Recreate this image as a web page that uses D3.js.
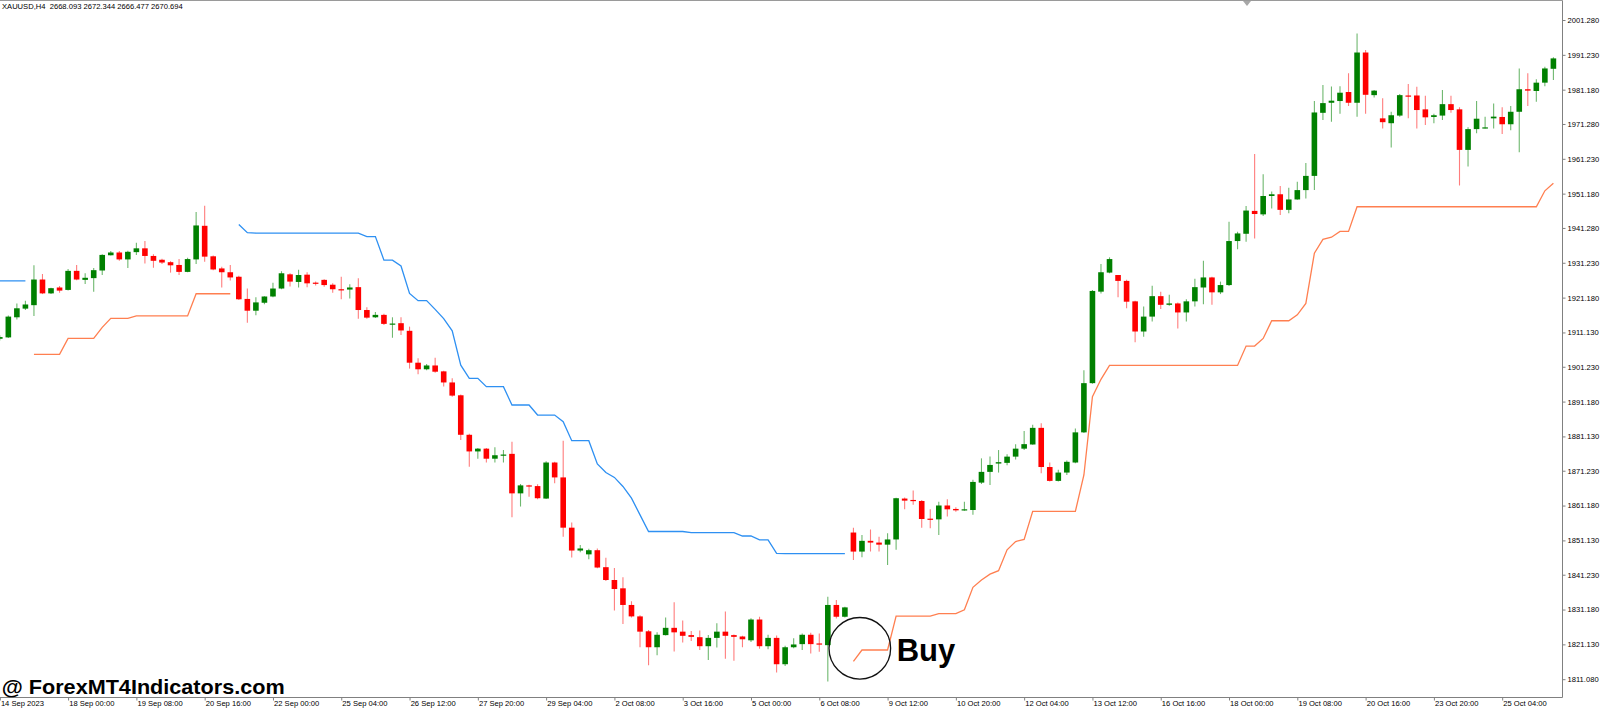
<!DOCTYPE html>
<html><head><meta charset="utf-8">
<script src="https://cdn.jsdelivr.net/npm/d3@7"></script>
<style>
html,body{margin:0;padding:0;background:#fff;overflow:hidden;}
svg{display:block;}
text{font-family:"Liberation Sans",Arial,sans-serif;}
</style></head><body>
<svg id="chart" width="1600" height="710"></svg>
<script>
// ---- DATA (XAUUSD H4 candles, one per bar, left to right) ----
const opens=[
1909.3,1909.7,1915.5,1918.0,1919.0,1926.4,1922.4,1924.1,1923.4,1928.9,
1926.3,1926.8,1929.0,1933.4,1934.2,1932.2,1934.3,1935.4,1933.2,1932.1,
1931.4,1930.6,1928.6,1932.2,1941.9,1933.1,1929.6,1928.5,1927.2,1920.8,
1917.4,1919.7,1921.5,1923.8,1927.9,1925.7,1927.8,1925.5,1926.3,1924.9,
1923.6,1923.5,1924.2,1917.6,1915.5,1916.2,1913.6,1913.8,1911.6,1902.4,
1900.5,1901.6,1899.9,1896.7,1893.0,1881.6,1876.8,1877.6,1874.7,1875.6,
1876.1,1864.7,1867.0,1866.8,1863.2,1873.6,1869.3,1854.8,1848.2,1847.1,
1848.3,1843.4,1839.7,1837.3,1832.5,1829.2,1824.9,1820.3,1823.8,1825.9,
1824.8,1823.8,1823.2,1820.6,1823.0,1824.8,1823.8,1823.4,1822.3,1828.3,
1820.6,1823.0,1815.4,1820.3,1821.2,1823.9,1821.4,1820.9,1832.5,1829.1,
1853.4,1847.9,1851.0,1850.5,1849.9,1851.4,1863.2,1862.8,1862.5,1857.4,
1857.2,1861.2,1860.2,1859.8,1859.9,1867.8,1870.9,1873.3,1873.5,1875.3,
1877.6,1878.8,1883.6,1872.3,1868.3,1870.7,1873.6,1882.3,1896.5,1922.9,
1928.4,1927.7,1926.0,1920.1,1911.4,1915.7,1921.6,1919.1,1919.5,1916.9,
1920.1,1924.1,1927.0,1922.7,1924.8,1937.5,1939.6,1946.2,1945.2,1950.5,
1951.0,1946.5,1949.5,1952.2,1956.3,1974.5,1977.4,1977.9,1980.5,1977.4,
1991.9,1979.6,1972.9,1971.5,1973.7,1979.5,1979.5,1975.5,1973.3,1973.7,
1977.0,1975.5,1963.8,1969.8,1970.0,1972.9,1973.3,1971.2,1974.8,1981.3,
1980.8,1983.2,1987.2];
const highs=[
1910.3,1916.0,1919.5,1920.3,1930.5,1928.0,1924.0,1924.5,1929.4,1930.6,
1928.2,1929.7,1933.7,1934.6,1934.6,1934.7,1937.0,1937.5,1933.7,1932.4,
1931.7,1932.3,1932.7,1945.9,1947.7,1933.3,1930.1,1930.6,1927.5,1923.8,
1921.3,1921.6,1925.5,1928.8,1928.2,1929.2,1928.5,1925.8,1926.5,1925.3,
1927.2,1925.0,1926.8,1918.4,1917.0,1916.5,1915.5,1915.5,1912.8,1903.7,
1902.0,1903.8,1900.1,1897.9,1893.2,1881.9,1877.8,1877.8,1878.0,1877.2,
1879.6,1867.4,1867.2,1867.3,1874.0,1873.8,1879.9,1856.3,1849.8,1848.7,
1848.8,1846.1,1843.2,1840.5,1833.6,1829.5,1825.3,1824.6,1828.9,1833.3,
1828.0,1825.0,1825.1,1823.8,1827.2,1830.6,1824.0,1823.6,1828.7,1829.1,
1823.9,1823.7,1820.7,1822.9,1824.3,1824.5,1824.3,1834.9,1833.9,1832.0,
1854.8,1852.7,1854.3,1852.2,1853.2,1863.4,1863.5,1865.5,1862.8,1860.1,
1862.3,1863.0,1860.7,1862.3,1868.6,1874.8,1875.3,1877.2,1876.0,1878.9,
1882.7,1884.5,1884.9,1873.6,1871.5,1874.2,1883.4,1900.2,1923.4,1930.9,
1932.8,1927.7,1926.3,1920.3,1918.6,1924.6,1922.9,1922.0,1919.8,1920.7,
1926.6,1931.8,1927.2,1925.8,1943.1,1940.2,1947.6,1962.6,1956.8,1951.8,
1953.4,1952.9,1954.6,1960.0,1977.9,1982.5,1982.1,1982.2,1985.9,1997.4,
1992.6,1981.1,1978.7,1974.8,1979.9,1982.8,1982.0,1979.4,1974.2,1981.1,
1979.4,1976.1,1970.3,1977.9,1973.4,1977.2,1976.1,1976.5,1987.3,1985.9,
1984.2,1987.8,1990.5];
const lows=[
1908.8,1909.5,1914.9,1917.6,1915.9,1922.2,1922.2,1922.6,1923.2,1926.2,
1925.1,1922.9,1927.7,1933.3,1931.8,1929.7,1933.5,1931.0,1929.8,1930.9,
1928.4,1927.7,1928.5,1930.9,1931.5,1929.1,1924.1,1926.1,1920.5,1913.9,
1916.1,1919.3,1921.3,1923.6,1924.4,1924.1,1924.2,1924.7,1924.3,1922.6,
1920.7,1920.9,1915.1,1915.1,1915.3,1913.3,1909.6,1910.4,1900.7,1899.1,
1900.2,1899.5,1895.5,1892.6,1880.1,1872.4,1874.7,1873.6,1873.6,1873.6,
1857.8,1860.9,1863.7,1863.0,1863.1,1867.6,1852.2,1846.2,1847.7,1845.7,
1843.1,1839.4,1830.9,1827.0,1828.9,1820.3,1815.1,1818.0,1823.7,1819.1,
1821.7,1822.1,1819.5,1816.6,1820.2,1817.0,1816.4,1820.3,1821.8,1819.9,
1819.7,1813.0,1814.9,1820.0,1819.5,1818.5,1819.0,1810.4,1828.6,1828.9,
1845.5,1846.3,1847.9,1847.9,1844.0,1848.4,1860.1,1861.4,1854.8,1854.6,
1852.7,1858.0,1859.4,1859.7,1858.5,1867.4,1867.1,1870.7,1872.8,1874.5,
1877.2,1878.7,1870.5,1868.1,1868.1,1870.0,1873.4,1882.1,1896.3,1922.4,
1928.2,1921.3,1918.1,1908.3,1909.9,1914.3,1917.9,1918.8,1912.3,1914.3,
1918.6,1919.3,1919.1,1922.2,1924.5,1935.1,1937.3,1938.2,1944.7,1946.9,
1945.0,1945.5,1949.4,1949.8,1952.2,1972.4,1971.9,1974.2,1976.5,1973.4,
1974.2,1978.9,1970.0,1964.5,1973.4,1972.9,1970.0,1971.0,1971.5,1972.4,
1974.5,1953.5,1959.0,1968.6,1970.0,1970.0,1968.4,1969.5,1963.1,1976.5,
1977.7,1982.2,1984.0];
const closes=[
1909.8,1915.7,1918.1,1919.2,1926.4,1922.4,1923.9,1923.2,1928.9,1926.4,
1926.9,1929.1,1933.5,1934.2,1932.2,1934.4,1935.4,1933.2,1931.8,1931.3,
1930.5,1928.6,1932.3,1942.0,1933.0,1929.3,1928.5,1927.0,1920.7,1917.4,
1919.8,1921.5,1923.8,1928.2,1925.8,1927.7,1925.3,1925.2,1924.8,1923.6,
1923.5,1924.1,1917.6,1915.4,1916.2,1913.6,1913.7,1911.7,1902.4,1900.5,
1901.6,1899.8,1896.7,1892.9,1881.6,1876.8,1877.6,1874.7,1875.7,1875.9,
1864.7,1867.0,1866.7,1863.3,1873.6,1869.3,1854.8,1848.2,1848.8,1848.3,
1843.3,1839.7,1837.1,1832.5,1829.2,1824.8,1820.3,1823.9,1825.9,1824.6,
1823.6,1823.3,1820.6,1823.0,1824.8,1823.6,1823.3,1822.6,1828.3,1820.6,
1823.0,1815.4,1820.3,1821.1,1823.9,1821.2,1821.1,1832.5,1829.1,1831.8,
1847.9,1851.0,1850.5,1849.9,1851.4,1863.3,1862.6,1862.5,1857.3,1857.1,
1861.2,1860.1,1859.8,1860.1,1868.0,1870.9,1872.9,1873.7,1875.3,1877.6,
1878.9,1883.6,1872.3,1868.3,1870.7,1873.8,1882.3,1896.5,1923.1,1928.5,
1932.3,1926.0,1920.0,1911.4,1915.7,1921.6,1919.1,1919.5,1916.9,1920.1,
1924.2,1927.0,1922.7,1924.8,1937.5,1939.7,1946.3,1945.3,1950.5,1951.0,
1946.5,1949.5,1952.2,1956.3,1974.6,1977.3,1978.0,1980.3,1977.4,1991.9,
1979.7,1980.9,1971.8,1973.8,1979.6,1979.3,1975.3,1973.2,1973.8,1977.0,
1975.3,1963.8,1969.8,1972.8,1970.3,1973.4,1971.2,1974.8,1981.3,1980.9,
1983.2,1987.3,1990.2];
// trend indicator: down-trend line (blue) and up-trend line (orange); null = not drawn
const trendDown=[
1926.0,1926.0,1926.0,1926.0,null,null,null,null,null,null,
null,null,null,null,null,null,null,null,null,null,
null,null,null,null,null,null,null,null,1942.3,1939.9,
1939.8,1939.8,1939.8,1939.8,1939.8,1939.8,1939.8,1939.8,1939.8,1939.8,
1939.8,1939.8,1939.8,1938.8,1938.8,1932.0,1932.0,1930.3,1922.4,1920.3,
1920.3,1917.8,1915.1,1911.6,1901.7,1897.9,1897.9,1895.5,1895.5,1895.5,
1890.2,1890.2,1890.2,1887.3,1887.3,1887.3,1885.4,1879.9,1879.9,1879.9,
1873.2,1870.7,1869.3,1866.7,1863.3,1858.5,1853.7,1853.7,1853.7,1853.7,
1853.7,1853.4,1853.4,1853.4,1853.4,1853.4,1853.4,1852.4,1852.4,1851.3,
1851.3,1847.4,1847.3,1847.3,1847.3,1847.3,1847.3,1847.3,1847.3,1847.3,
null,null,null,null,null,null,null,null,null,null,
null,null,null,null,null,null,null,null,null,null,
null,null,null,null,null,null,null,null,null,null,
null,null,null,null,null,null,null,null,null,null,
null,null,null,null,null,null,null,null,null,null,
null,null,null,null,null,null,null,null,null,null,
null,null,null,null,null,null,null,null,null,null,
null,null,null,null,null,null,null,null,null,null,
null,null,null];
const trendUp=[
null,null,null,null,1904.8,1904.8,1904.8,1904.8,1909.4,1909.4,
1909.4,1909.4,1912.6,1915.2,1915.2,1915.2,1915.9,1915.9,1915.9,1915.9,
1915.9,1915.9,1915.9,1922.3,1922.3,1922.3,1922.3,1922.3,null,null,
null,null,null,null,null,null,null,null,null,null,
null,null,null,null,null,null,null,null,null,null,
null,null,null,null,null,null,null,null,null,null,
null,null,null,null,null,null,null,null,null,null,
null,null,null,null,null,null,null,null,null,null,
null,null,null,null,null,null,null,null,null,null,
null,null,null,null,null,null,null,null,null,null,
1816.2,1819.5,1819.5,1819.5,1819.5,1829.3,1829.3,1829.3,1829.3,1829.3,
1830.0,1830.0,1830.0,1831.1,1837.6,1839.7,1841.4,1842.4,1848.4,1850.8,
1851.4,1859.5,1859.5,1859.5,1859.5,1859.5,1859.5,1870.0,1892.6,1897.6,
1901.6,1901.6,1901.6,1901.6,1901.6,1901.6,1901.6,1901.6,1901.6,1901.6,
1901.6,1901.6,1901.6,1901.6,1901.6,1901.6,1907.2,1907.2,1909.4,1914.5,
1914.5,1914.5,1916.2,1919.5,1934.0,1938.0,1938.6,1940.3,1940.3,1947.4,
1947.4,1947.4,1947.4,1947.4,1947.4,1947.4,1947.4,1947.4,1947.4,1947.4,
1947.4,1947.4,1947.4,1947.4,1947.4,1947.4,1947.4,1947.4,1947.4,1947.4,
1947.4,1952.0,1954.2];
const yTickValues=[2001.28,1991.23,1981.18,1971.28,1961.23,1951.18,1941.28,1931.23,1921.18,1911.13,
1901.23,1891.18,1881.13,1871.23,1861.18,1851.13,1841.23,1831.18,1821.13,1811.08];
const xTickIndex=[0,8,16,24,32,40,48,56,64,72,80,88,96,104,112,120,128,136,144,152,160,168,176];
const xTickLabels=["14 Sep 2023","18 Sep 00:00","19 Sep 08:00","20 Sep 16:00","22 Sep 00:00","25 Sep 04:00",
"26 Sep 12:00","27 Sep 20:00","29 Sep 04:00","2 Oct 08:00","3 Oct 16:00","5 Oct 00:00","6 Oct 08:00",
"9 Oct 12:00","10 Oct 20:00","12 Oct 04:00","13 Oct 12:00","16 Oct 16:00","18 Oct 00:00","19 Oct 08:00",
"20 Oct 16:00","23 Oct 20:00","25 Oct 04:00"];
const headerText="XAUUSD,H4  2668.093 2672.344 2666.477 2670.694";
const watermarkText="@ ForexMT4Indicators.com";
const signalIndex=[100.75];
const signalPrice=[1820.0];
const signalLabel=["Buy"];

// ---- CHART ----
const W=1600,H=710;
const plotRight=1562.5, plotBottom=697.5, plotTop=0.5;
const svg=d3.select("#chart");
const x=d3.scaleLinear().domain([0,182]).range([-0.2,1553.4]);
const y=d3.scaleLinear().domain([1811.08,2001.28]).range([679.2,20]);

const candles=opens.map((o,i)=>({i,o,h:highs[i],l:lows[i],c:closes[i]}));

svg.append("defs").append("clipPath").attr("id","plotclip")
  .append("rect").attr("x",0).attr("y",plotTop).attr("width",plotRight).attr("height",plotBottom-plotTop);

const plot=svg.append("g").attr("clip-path","url(#plotclip)");

const bull="#008000", bear="#ff0000";
const bodyW=5.6;

plot.append("g").selectAll("line").data(candles).join("line")
  .attr("x1",d=>x(d.i)).attr("x2",d=>x(d.i))
  .attr("y1",d=>y(d.h)).attr("y2",d=>y(d.l))
  .attr("stroke",d=>d.c>=d.o?"#6fb86f":"#ff7d7d")
  .attr("stroke-width",1.1);

plot.append("g").selectAll("rect").data(candles).join("rect")
  .attr("x",d=>x(d.i)-bodyW/2)
  .attr("width",bodyW)
  .attr("y",d=>y(Math.max(d.o,d.c)))
  .attr("height",d=>Math.max(1.2,Math.abs(y(d.o)-y(d.c))))
  .attr("fill",d=>d.c>=d.o?bull:bear);

const line=d3.line().defined(d=>d.v!=null).x(d=>x(d.i)).y(d=>y(d.v));
plot.append("path").datum(trendDown.map((v,i)=>({i,v})))
  .attr("d",line).attr("fill","none").attr("stroke","#2e90f2").attr("stroke-width",1.3);
plot.append("path").datum(trendUp.map((v,i)=>({i,v})))
  .attr("d",line).attr("fill","none").attr("stroke","#ff7f50").attr("stroke-width",1.3);

// signal annotation
const sig=svg.append("g");
signalIndex.forEach((si,k)=>{
  const cx=x(si), cy=y(signalPrice[k]), r=30.8;
  sig.append("circle").attr("cx",cx).attr("cy",cy).attr("r",r)
    .attr("fill","none").attr("stroke","#111").attr("stroke-width",1.3);
  sig.append("text").attr("x",cx+r+6).attr("y",cy+12.5)
    .attr("font-size",31).attr("font-weight","bold").attr("fill","#000")
    .text(signalLabel[k]);
});

// frame
svg.append("line").attr("x1",0).attr("x2",plotRight).attr("y1",plotTop).attr("y2",plotTop)
  .attr("stroke","#9a9a9a").attr("stroke-width",1);
svg.append("line").attr("x1",0).attr("x2",plotRight).attr("y1",plotBottom).attr("y2",plotBottom)
  .attr("stroke","#808080").attr("stroke-width",1);

// chart shift marker
svg.append("path").attr("d","M1243,1 L1251,1 L1247,6 Z").attr("fill","#a8a8a8");

// y axis
const yAxis=d3.axisRight(y).tickValues(yTickValues).tickSize(3).tickPadding(2)
  .tickFormat(d3.format(".3f"));
const gy=svg.append("g").attr("transform",`translate(${plotRight},0)`).call(yAxis);
gy.select(".domain").remove();
svg.append("line").attr("x1",plotRight).attr("x2",plotRight).attr("y1",plotTop).attr("y2",plotBottom)
  .attr("stroke","#808080").attr("stroke-width",1);
gy.selectAll(".tick line").attr("stroke","#808080");
gy.selectAll(".tick text").attr("font-size",7.6).attr("fill","#000")
  .attr("font-family","'Liberation Sans',Arial,sans-serif");

// x axis
const xAxis=d3.axisBottom(x).tickValues(xTickIndex).tickSize(3)
  .tickFormat((d,k)=>xTickLabels[k]);
const gx=svg.append("g").attr("transform",`translate(0,${plotBottom})`).call(xAxis);
gx.select(".domain").remove();
gx.selectAll(".tick line").attr("stroke","#808080");
gx.selectAll(".tick text").attr("font-size",7.6).attr("fill","#000")
  .attr("text-anchor","start").attr("x",0.6).attr("y",3.6)
  .attr("font-family","'Liberation Sans',Arial,sans-serif");

// header
svg.append("text").attr("x",2).attr("y",9).attr("font-size",7.6).attr("fill","#000")
  .attr("xml:space","preserve").style("white-space","pre").text(headerText);

// watermark
svg.append("text").attr("x",1.7).attr("y",694.3).attr("font-size",21).attr("font-weight","bold")
  .attr("fill","#000").attr("textLength",283).attr("lengthAdjust","spacingAndGlyphs")
  .text(watermarkText);
</script>
</body></html>
